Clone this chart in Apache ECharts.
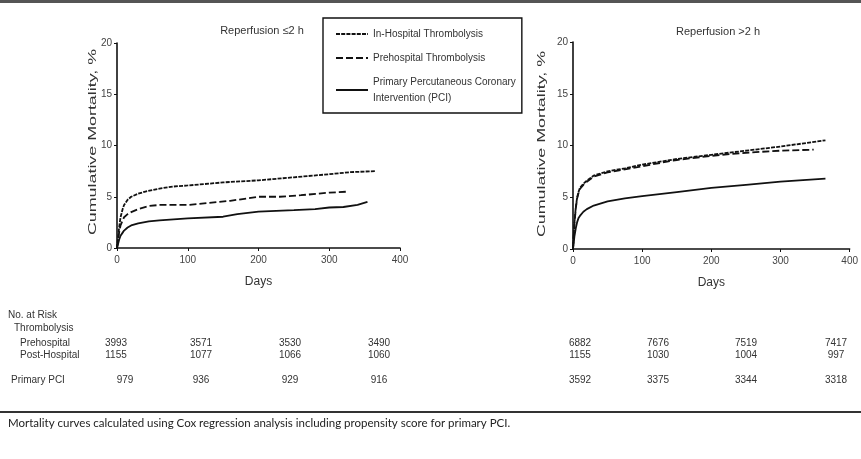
<!DOCTYPE html>
<html>
<head>
<meta charset="utf-8">
<script src="https://cdn.jsdelivr.net/npm/echarts@6/dist/echarts.min.js"></script>
<style>
  html, body { margin: 0; padding: 0; background: #fff; }
  #chart { width: 861px; height: 459px; }
</style>
</head>
<body>
<div id="chart"></div>
<script>
const FONT = '"Liberation Sans Narrow", "Arial Narrow", "Liberation Sans", sans-serif';
const INK = '#111';

// series names (legend)
const names = ['In-Hospital Thrombolysis', 'Prehospital Thrombolysis', 'Primary PCI'];
const legendLabels = ['In-Hospital Thrombolysis', 'Prehospital Thrombolysis', 'Primary Percutaneous Coronary\nIntervention (PCI)'];

// left panel, reperfusion <= 2 h
const leftInHospDays = [0, 3, 5, 8, 10, 15, 20, 30, 40, 60, 80, 100, 150, 200, 250, 300, 330, 365];
const leftInHospVals = [0, 2.0, 3.0, 3.8, 4.2, 4.7, 5.0, 5.3, 5.5, 5.8, 6.0, 6.1, 6.4, 6.6, 6.9, 7.2, 7.4, 7.5];
const leftPreDays = [0, 3, 5, 8, 10, 15, 20, 30, 45, 60, 80, 100, 130, 160, 200, 230, 260, 300, 326];
const leftPreVals = [0, 1.5, 2.2, 2.7, 3.0, 3.3, 3.5, 3.8, 4.1, 4.2, 4.2, 4.2, 4.4, 4.6, 5.0, 5.0, 5.15, 5.4, 5.5];
const leftPciDays = [0, 3, 5, 8, 10, 15, 20, 30, 45, 60, 80, 100, 150, 170, 200, 250, 280, 300, 320, 340, 354];
const leftPciVals = [0, 0.8, 1.2, 1.5, 1.7, 2.0, 2.2, 2.4, 2.6, 2.7, 2.8, 2.9, 3.05, 3.3, 3.55, 3.7, 3.8, 3.95, 4.0, 4.2, 4.5];

// right panel, reperfusion > 2 h
const rightInHospDays = [0, 2, 4, 6, 8, 10, 15, 20, 30, 50, 75, 100, 150, 200, 250, 300, 365];
const rightInHospVals = [0, 2.5, 4.0, 5.0, 5.5, 5.9, 6.3, 6.6, 7.1, 7.5, 7.8, 8.15, 8.7, 9.1, 9.5, 9.9, 10.5];
const rightPreDays = [0, 2, 4, 6, 8, 10, 15, 20, 30, 50, 75, 100, 150, 200, 250, 300, 348];
const rightPreVals = [0, 2.4, 3.9, 4.9, 5.4, 5.8, 6.2, 6.5, 7.0, 7.4, 7.7, 8.0, 8.6, 9.0, 9.3, 9.5, 9.6];
const rightPciDays = [0, 2, 4, 6, 8, 10, 15, 20, 30, 50, 75, 100, 150, 200, 250, 300, 365];
const rightPciVals = [0, 1.2, 2.0, 2.6, 3.0, 3.2, 3.6, 3.85, 4.2, 4.6, 4.9, 5.1, 5.5, 5.9, 6.2, 6.5, 6.8];

// number at risk table
const riskRowLabels = ['Prehospital', 'Post-Hospital', 'Primary PCI'];
const riskLeftPre = [3993, 3571, 3530, 3490];
const riskLeftPost = [1155, 1077, 1066, 1060];
const riskLeftPci = [979, 936, 929, 916];
const riskRightPre = [6882, 7676, 7519, 7417];
const riskRightPost = [1155, 1030, 1004, 997];
const riskRightPci = [3592, 3375, 3344, 3318];

const yName = 'Cumulative Mortality, %';
const footnote = 'Mortality curves calculated using Cox regression analysis including propensity score for primary PCI.';

const pair = (xs, ys) => xs.map((x, i) => [x, ys[i]]);
const dashes = [[4, 1.2], [7, 3], 'solid'];

function lineSeries(name, idx, data, gi) {
  return {
    type: 'line', name: name, xAxisIndex: gi, yAxisIndex: gi,
    data: data, symbol: 'none', smooth: false, animation: false,
    lineStyle: { color: INK, width: 1.8, type: dashes[idx] },
    itemStyle: { color: INK }
  };
}

function xAxisFor(gi) {
  return {
    gridIndex: gi, type: 'value', min: 0, max: 400, interval: 100,
    name: 'Days', nameLocation: 'middle', nameGap: 28,
    nameTextStyle: { fontFamily: FONT, fontSize: 12, color: '#333' },
    axisLine: { show: true, onZero: false, lineStyle: { color: INK, width: 1.6 } },
    axisTick: { show: true, length: 3, lineStyle: { color: INK } },
    axisLabel: { fontFamily: FONT, fontSize: 10, color: '#444', margin: 7 },
    splitLine: { show: false }
  };
}

function yAxisFor(gi) {
  return {
    gridIndex: gi, type: 'value', min: 0, max: 20, interval: 5,
    axisLine: { show: true, lineStyle: { color: INK, width: 1.6 } },
    axisTick: { show: true, length: 3, lineStyle: { color: INK } },
    axisLabel: { fontFamily: FONT, fontSize: 10, color: '#444', margin: 5 },
    splitLine: { show: false }
  };
}

const graphics = [];
const txt = (x, y, text, opts, extra) => graphics.push(Object.assign({
  type: 'text', x: x, y: y, silent: true,
  style: Object.assign({ text: String(text), fontFamily: FONT, fontSize: 10, fill: '#333', textVerticalAlign: 'middle' }, opts || {})
}, extra || {}));

// rules
graphics.push({ type: 'rect', shape: { x: 0, y: 0, width: 861, height: 3 }, style: { fill: '#555' }, silent: true });
graphics.push({ type: 'rect', shape: { x: 0, y: 411, width: 861, height: 2 }, style: { fill: '#333' }, silent: true });

// panel titles
txt(262, 31, 'Reperfusion \u22642 h', { textAlign: 'center', fontSize: 11 });
txt(718, 32, 'Reperfusion >2 h', { textAlign: 'center', fontSize: 11 });

// y axis names, stretched along their length like the original
txt(93, 142, yName, { textAlign: 'center', fontSize: 10.5 }, { rotation: Math.PI / 2, scaleX: 1.7 });
txt(542, 144, yName, { textAlign: 'center', fontSize: 10.5 }, { rotation: Math.PI / 2, scaleX: 1.7 });

// table
txt(8, 315, 'No. at Risk');
txt(14, 328, 'Thrombolysis');
const rowY = [343, 355, 380];
const rowX = [20, 20, 11];
riskRowLabels.forEach((l, i) => txt(rowX[i], rowY[i], l));
const leftCols = [116, 201, 290, 379];
const rightCols = [580, 658, 746, 836];
[riskLeftPre, riskLeftPost, riskLeftPci].forEach((row, r) => {
  row.forEach((v, c) => txt(leftCols[c] + (r === 2 && c === 0 ? 9 : 0), rowY[r], v, { textAlign: 'center' }));
});
[riskRightPre, riskRightPost, riskRightPci].forEach((row, r) => {
  row.forEach((v, c) => txt(rightCols[c], rowY[r], v, { textAlign: 'center' }));
});

// footnote
txt(8, 423, footnote, { fontFamily: 'Lato, "Open Sans", sans-serif', fontSize: 11.5, fill: '#222' });

const option = {
  backgroundColor: '#fff',
  animation: false,
  grid: [
    { left: 117, top: 43, width: 283, height: 205 },
    { left: 573, top: 42, width: 282, height: 207 }
  ],
  xAxis: [xAxisFor(0), xAxisFor(1)],
  yAxis: [yAxisFor(0), yAxisFor(1)],
  legend: {
    data: names, orient: 'vertical', left: 323, top: 18,
    width: 195, itemWidth: 32, itemHeight: 10, itemGap: 8,
    padding: [8, 6, 7, 12],
    borderColor: INK, borderWidth: 1.4,
    itemStyle: { opacity: 0 },
    textStyle: { fontFamily: FONT, fontSize: 10, color: '#333', lineHeight: 16 },
    formatter: name => legendLabels[names.indexOf(name)]
  },
  series: [
    lineSeries(names[0], 0, pair(leftInHospDays, leftInHospVals), 0),
    lineSeries(names[1], 1, pair(leftPreDays, leftPreVals), 0),
    lineSeries(names[2], 2, pair(leftPciDays, leftPciVals), 0),
    lineSeries(names[0], 0, pair(rightInHospDays, rightInHospVals), 1),
    lineSeries(names[1], 1, pair(rightPreDays, rightPreVals), 1),
    lineSeries(names[2], 2, pair(rightPciDays, rightPciVals), 1)
  ],
  graphic: graphics
};

const chart = echarts.init(document.getElementById('chart'));
chart.setOption(option);
</script>
</body>
</html>
